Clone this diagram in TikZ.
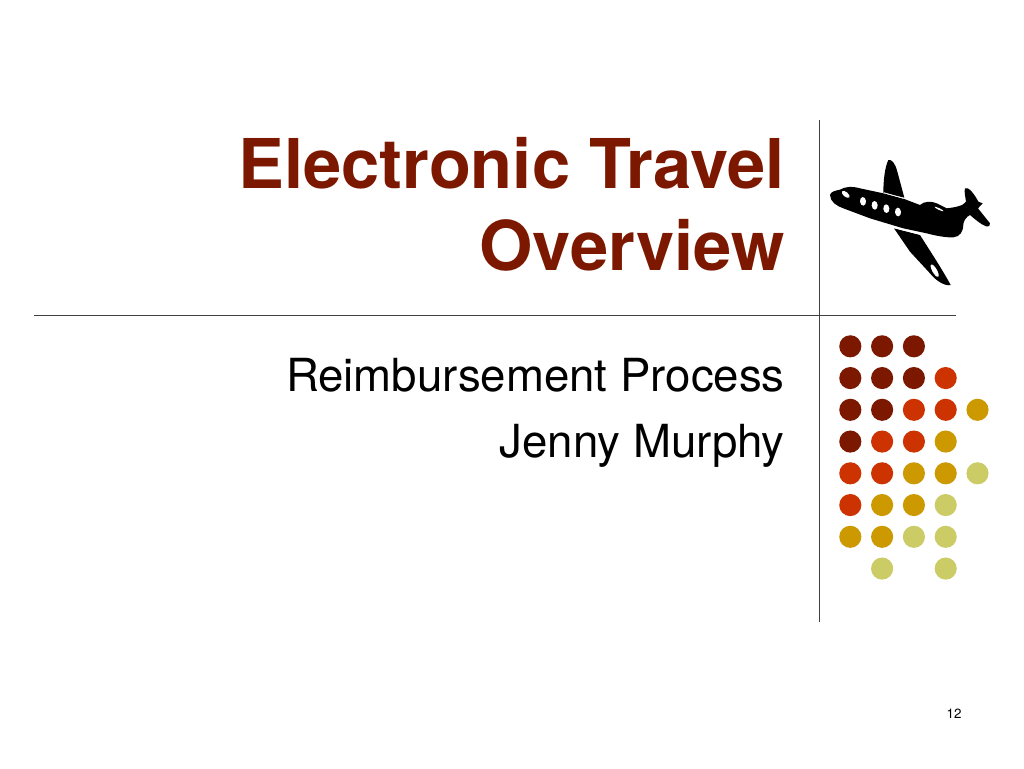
\documentclass[tikz,border=0pt]{standalone}
\usepackage{fontspec}
\setmainfont{TeX Gyre Heros}
\definecolor{maroon}{HTML}{7C1800}
\definecolor{rust}{HTML}{CC3300}
\definecolor{gold}{HTML}{CC9900}
\definecolor{olive}{HTML}{CCCC66}
\definecolor{rulegrey}{HTML}{404040}
\tikzset{
  rulel/.style={draw=rulegrey,line width=0.6pt},
  titletext/.style={anchor=base east,inner sep=0,font=\bfseries\fontsize{51.5}{60}\selectfont,text=maroon},
  subtext/.style={anchor=base east,inner sep=0,font=\fontsize{34.2}{40}\selectfont,text=black},
}
\begin{document}
\begin{tikzpicture}[x=0.75pt,y=-0.75pt]
\useasboundingbox (0,0) rectangle (1024,768);
\fill[white] (0,0) rectangle (1024,768);
\draw[rulel] (819,120) -- (819,622);
\draw[rulel] (34,315.5) -- (956,315.5);
\node[titletext] (t1) at (785,188.5) {Electronic Travel};
\node[titletext] (t2) at (785,270.5) {Overview};
\node[subtext] (s1) at (785,391) {Reimbursement Process};
\node[subtext] (s2) at (785,457) {Jenny Murphy};
\node[anchor=base,inner sep=0,font=\fontsize{10}{12}\selectfont] (pg) at (954,718) {12};
% dots
\foreach \col/\row/\c in {0/0/maroon,1/0/maroon,2/0/maroon,
 0/1/maroon,1/1/maroon,2/1/maroon,3/1/rust,
 0/2/maroon,1/2/maroon,2/2/rust,3/2/rust,4/2/gold,
 0/3/maroon,1/3/rust,2/3/rust,3/3/gold,
 0/4/rust,1/4/rust,2/4/gold,3/4/gold,4/4/olive,
 0/5/rust,1/5/gold,2/5/gold,3/5/olive,
 0/6/gold,1/6/gold,2/6/olive,3/6/olive,
 1/7/olive,3/7/olive}{
  \fill[\c] ({850.3+31.8*\col},{346.3+31.75*\row}) circle[radius=8.3pt];
}
% airplane
\begin{scope}[shift={(820,150)},x=0.25pt,y=-0.25pt]
\fill[black] (190,128) .. controls (190,90) and (195,50) .. (205,30)
  .. controls (215,28) and (225,38) .. (232,65) -- (253,143) -- cycle;
\fill[black] (222,235) -- (300,255) .. controls (325,295) and (365,355) .. (392,405)
  .. controls (375,410) and (345,390) .. (330,370) -- (270,305) -- cycle;
\fill[black] (30,135) .. controls (32,125) and (45,122) .. (60,119)
  .. controls (75,110) and (95,108) .. (120,115) -- (190,130) -- (250,146) -- (300,165)
  .. controls (312,153) and (335,153) .. (350,160) -- (380,175)
  .. controls (405,172) and (430,168) .. (438,155)
  .. controls (436,140) and (432,125) .. (435,115) .. controls (445,108) and (465,135) .. (475,155)
  -- (488,160) -- (474,175) -- (510,220) .. controls (512,228) and (505,232) .. (498,229)
  .. controls (480,222) and (462,205) .. (450,195)
  .. controls (440,200) and (432,210) .. (430,222)
  .. controls (430,245) and (420,260) .. (400,262)
  .. controls (380,263) and (350,258) .. (320,250) -- (250,235) -- (150,205) -- (70,175)
  .. controls (50,168) and (30,155) .. (30,135) -- cycle;
\draw[white,line width=0.5pt] (192,128) -- (250,145);
\draw[white,line width=0.5pt] (222,233) -- (300,253);
\fill[white,rotate around={-40:(77,133)}] (77,133) ellipse[x radius=14,y radius=7];
\foreach \a/\b in {129/154,164/166,199/176,234/186}{
  \fill[white,rotate around={5:(\a,\b)}] (\a,\b) ellipse[x radius=9,y radius=13];
}
\fill[white,rotate around={30:(344,362)}] (344,362) ellipse[x radius=7,y radius=21];
\fill[white,rotate around={-25:(357,177)}] (357,177) ellipse[x radius=15,y radius=2.5];
\end{scope}
\end{tikzpicture}
\end{document}
